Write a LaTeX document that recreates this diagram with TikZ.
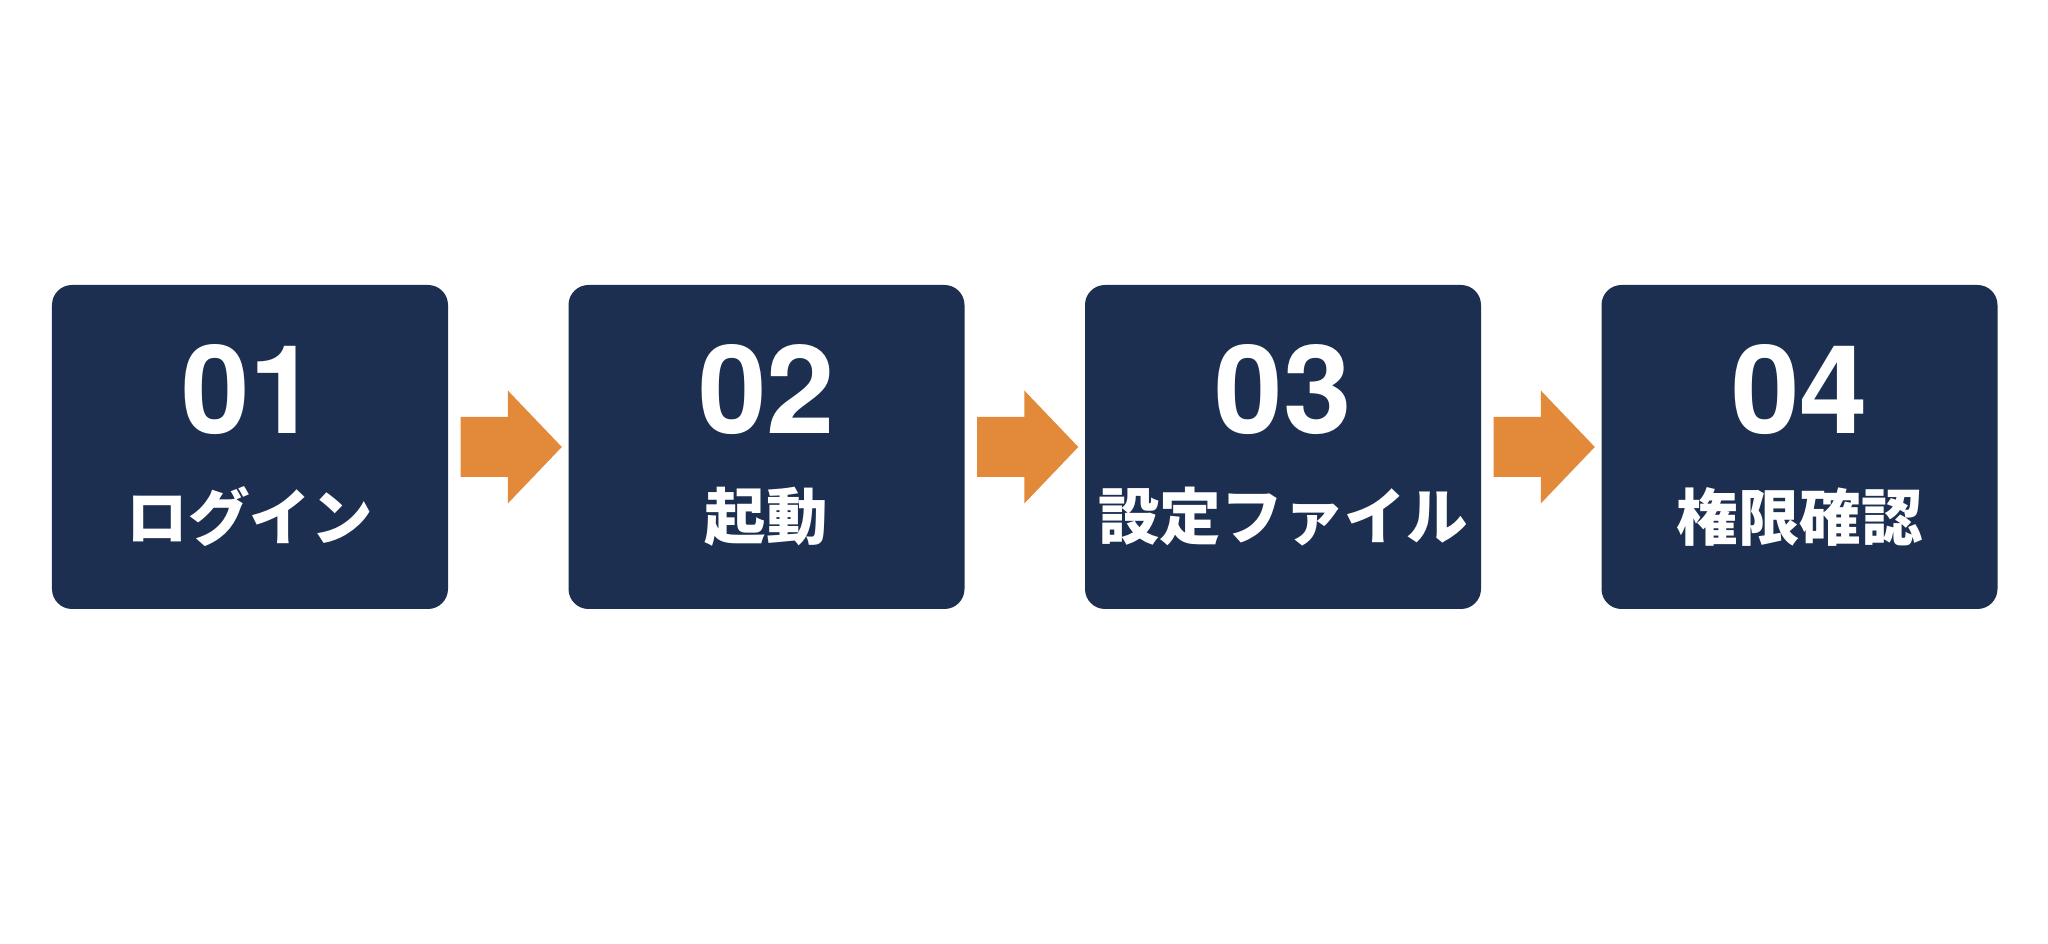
\documentclass[tikz,border=0pt]{standalone}
\usepackage{fontspec}
\setmainfont{Noto Sans CJK JP}
\newfontfamily\numfont{TeX Gyre Heros}
\usetikzlibrary{calc}

\definecolor{stepnavy}{HTML}{1C2F50}
\definecolor{steporange}{HTML}{E38A3A}

\begin{document}
\begin{tikzpicture}[
    stepbox/.style={fill=stepnavy, rounded corners=0.2cm, minimum width=3.96cm, minimum height=3.24cm, inner sep=0pt},
    numtext/.style={text=white, font=\numfont\bfseries\fontsize{35}{38}\selectfont, inner sep=0pt},
    labeltext/.style={text=white, font=\bfseries\fontsize{17.5}{21}\selectfont, inner sep=0pt}
  ]
    \useasboundingbox[fill=white] (0,0) rectangle (20.48,9.44);

    % Parameters
    \def\pitch{5.165} % Distance between box centers
    \def\ymid{4.97}   % Vertical center of the row

    % Draw the four steps
    \foreach \i/\num/\lbl in {1/01/ログイン, 2/02/起動, 3/03/設定ファイル, 4/04/権限確認} {
        \node[stepbox] (box\i) at ({2.5+(\i-1)*\pitch}, \ymid) {};
        \node[numtext] (num\i) at ($(box\i.center)+(0,0.57)$) {\num};
        \node[labeltext] (lbl\i) at ($(box\i.center)+(0,-0.70)$) {\lbl};
    }

    % Block arrows between the boxes
    \foreach \i in {1,2,3} {
        \pgfmathtruncatemacro{\j}{\i+1}
        \coordinate (tail\i) at ($(box\i.east)+(0.12,0)$);
        \coordinate (tip\i) at ($(box\j.west)+(-0.06,0)$);
        \fill[steporange] ($(tail\i)+(0,0.30)$) -- ($(tip\i)+(-0.54,0.30)$)
            -- ($(tip\i)+(-0.54,0.565)$) -- (tip\i) -- ($(tip\i)+(-0.54,-0.565)$)
            -- ($(tip\i)+(-0.54,-0.30)$) -- ($(tail\i)+(0,-0.30)$) -- cycle;
    }
\end{tikzpicture}
\end{document}
